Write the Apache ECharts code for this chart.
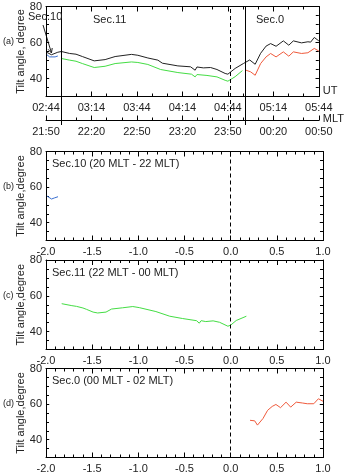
<!DOCTYPE html>
<html>
<head>
<meta charset="utf-8">
<script src="https://cdn.jsdelivr.net/npm/echarts@6/dist/echarts.min.js"></script>
<style>
  html, body { margin: 0; padding: 0; background: #fff; }
  #main { width: 345px; height: 476px; }
</style>
</head>
<body>
<div id="main"></div>
<script>
// x values are hours relative to the dashed line (04:44 UT / 23:50 MLT)
var utLabels = ['02:44', '03:14', '03:44', '04:14', '04:44', '05:14', '05:44'];
var mltLabels = ['21:50', '22:20', '22:50', '23:20', '23:50', '00:20', '00:50'];
var secBounds = [-1.83, 0.16];

// panel (a)
var aBlackX = [-1.99, -1.94, -1.87, -1.83, -1.74, -1.67, -1.60, -1.47, -1.35, -1.24, -1.06, -0.99, -0.88, -0.77, -0.72, -0.55, -0.41, -0.36, -0.34, -0.27, -0.19, -0.12, -0.03, 0.0, 0.08, 0.17, 0.24, 0.30, 0.36, 0.42, 0.47, 0.53, 0.61, 0.67, 0.72, 0.81, 0.88, 0.91, 0.95, 1.0];
var aBlackY = [54.5, 53.2, 54.6, 55.0, 53.9, 53.5, 52.2, 49.8, 50.5, 52.2, 53.4, 52.9, 51.4, 50.2, 48.5, 47.0, 46.5, 44.6, 46.4, 45.9, 46.1, 45.0, 42.8, 42.4, 45.6, 48.3, 50.3, 47.9, 54.0, 58.0, 59.4, 57.9, 60.9, 58.5, 60.9, 59.8, 60.4, 60.2, 62.8, 60.9];
var aGreenX = [-1.83, -1.74, -1.67, -1.60, -1.47, -1.35, -1.24, -1.06, -0.99, -0.88, -0.74, -0.55, -0.40, -0.36, -0.34, -0.23, -0.12, -0.03, 0.0, 0.08, 0.16];
var aGreenY = [51.1, 50.2, 49.6, 48.3, 46.1, 46.8, 48.3, 49.2, 48.9, 47.8, 45.0, 43.3, 42.4, 40.9, 42.2, 41.7, 40.9, 39.0, 38.5, 41.0, 44.4];
var aBlueX = [-1.99, -1.96, -1.94, -1.90, -1.87];
var aBlueY = [53.2, 52.0, 51.3, 52.0, 52.5];
var aRedX = [0.20, 0.25, 0.30, 0.36, 0.42, 0.47, 0.53, 0.61, 0.67, 0.72, 0.81, 0.88, 0.95, 1.0];
var aRedY = [44.6, 43.7, 41.8, 48.3, 52.0, 53.9, 52.0, 54.8, 52.4, 54.8, 53.9, 54.3, 56.7, 55.3];

// panel (b) Sec.10
var bBlueX = [-1.99, -1.97, -1.94, -1.91, -1.87];
var bBlueY = [55.0, 54.0, 53.3, 53.9, 54.6];

// panel (c) Sec.11
var cGreenX = [-1.83, -1.72, -1.67, -1.65, -1.60, -1.56, -1.49, -1.44, -1.35, -1.29, -1.17, -1.06, -0.99, -0.81, -0.66, -0.52, -0.37, -0.34, -0.32, -0.27, -0.19, -0.12, -0.03, 0.0, 0.06, 0.17];
var cGreenY = [55.6, 54.5, 54.1, 54.3, 53.2, 52.4, 50.9, 50.4, 50.9, 52.6, 53.3, 54.0, 53.4, 51.2, 48.6, 47.3, 46.1, 44.7, 46.1, 45.6, 46.0, 45.2, 43.0, 43.6, 46.2, 48.6];

// panel (d) Sec.0
var dRedX = [0.21, 0.26, 0.29, 0.35, 0.40, 0.45, 0.49, 0.54, 0.60, 0.65, 0.71, 0.78, 0.83, 0.90, 0.95, 1.0];
var dRedY = [50.9, 50.6, 48.2, 51.9, 56.5, 58.7, 59.8, 58.0, 61.1, 58.3, 61.1, 60.6, 60.2, 60.2, 63.0, 61.6];

var yMajor = [40, 60, 80];
var panelTitles = ['Sec.10 (20 MLT - 22 MLT)', 'Sec.11 (22 MLT - 00 MLT)', 'Sec.0 (00 MLT - 02 MLT)'];

var BLACK = '#222';
var GREEN = '#44dd44';
var BLUE = '#3a6fd0';
var RED = '#f05a3c';
var FONT = 'Liberation Sans';

function pairs(xs, ys) {
  return xs.map(function (x, i) { return [x, ys[i]]; });
}

var grids = [
  { left: 46, width: 277, top: 6.5, height: 90 },
  { left: 46, width: 277, top: 151.5, height: 89 },
  { left: 46, width: 277, top: 260, height: 89.5 },
  { left: 46, width: 277, top: 368.5, height: 89 },
  { left: 46, width: 277, top: 6.5, height: 118.5 } // overlay for the long vertical lines of (a)
];

var xAxes = [];
var yAxes = [];

function bottomX(g, labelFn, minorSplit) {
  return {
    type: 'value', gridIndex: g, position: 'bottom', min: -2, max: 1, interval: 0.5,
    axisLine: { onZero: false, lineStyle: { color: '#000', width: 1 } },
    axisTick: { inside: true, length: 5, lineStyle: { color: '#000' } },
    minorTick: { show: true, splitNumber: minorSplit, length: 3, lineStyle: { color: '#000' } },
    splitLine: { show: false },
    axisLabel: { color: '#222', fontFamily: FONT, fontSize: 11, margin: 6, formatter: labelFn }
  };
}
function topX(g, minorSplit) {
  return {
    type: 'value', gridIndex: g, position: 'top', min: -2, max: 1, interval: 0.5,
    axisLine: { onZero: false, lineStyle: { color: '#000', width: 1 } },
    axisTick: { inside: true, length: 5, lineStyle: { color: '#000' } },
    minorTick: { show: true, splitNumber: minorSplit, length: 3, lineStyle: { color: '#000' } },
    splitLine: { show: false }, axisLabel: { show: false }
  };
}
// left axis: short ticks every 5, labels at 40/60/80
function leftY(g, name) {
  return {
    type: 'value', gridIndex: g, position: 'left', min: 30, max: 80, interval: 5,
    name: name, nameLocation: 'middle', nameGap: 20, nameMoveOverlap: false,
    nameTextStyle: { color: '#222', fontFamily: FONT, fontSize: 11 },
    axisLine: { onZero: false, lineStyle: { color: '#000', width: 1 } },
    axisTick: { inside: true, length: 3, lineStyle: { color: '#000' } },
    splitLine: { show: false },
    axisLabel: {
      color: '#222', fontFamily: FONT, fontSize: 11, margin: 4,
      formatter: function (v) { return yMajor.indexOf(v) >= 0 ? String(v) : ''; }
    }
  };
}
function rightY(g) {
  return {
    type: 'value', gridIndex: g, position: 'right', min: 30, max: 80, interval: 5,
    axisLine: { onZero: false, lineStyle: { color: '#000', width: 1 } },
    axisTick: { inside: true, length: 3, lineStyle: { color: '#000' } },
    splitLine: { show: false }, axisLabel: { show: false }
  };
}

var utFmt = function (v) { return utLabels[Math.round((v + 2) * 2)]; };
var mltFmt = function (v) { return mltLabels[Math.round((v + 2) * 2)]; };
var numFmt = function (v) { return v.toFixed(1); };

// panel (a) axes
var utAxis = bottomX(0, utFmt, 3);
utAxis.name = 'UT';
utAxis.nameLocation = 'end';
utAxis.nameGap = 4;
utAxis.nameTextStyle = { color: '#222', fontFamily: FONT, fontSize: 11, verticalAlign: 'bottom' };
xAxes.push(utAxis);               // 0
xAxes.push(topX(0, 3));           // 1
var mltAxis = bottomX(0, mltFmt, 3);
mltAxis.offset = 24;
mltAxis.name = 'MLT';
mltAxis.nameLocation = 'end';
mltAxis.nameGap = 4;
mltAxis.nameTextStyle = { color: '#222', fontFamily: FONT, fontSize: 11, verticalAlign: 'bottom', padding: [0, 0, -4, 0] };
xAxes.push(mltAxis);              // 2
// panels (b)-(d)
for (var g = 1; g <= 3; g++) {
  xAxes.push(bottomX(g, numFmt, 5)); // 3,5,7
  xAxes.push(topX(g, 5));            // 4,6,8
}
xAxes.push({ type: 'value', gridIndex: 4, min: -2, max: 1, show: false }); // 9

for (var k = 0; k <= 3; k++) {
  yAxes.push(leftY(k, k === 0 ? 'Tilt angle, degree' : 'Tilt angle,degree')); // 2k
  yAxes.push(rightY(k));  // 2k+1
}
yAxes.push({ type: 'value', gridIndex: 4, min: 0, max: 1, show: false }); // 8

function lineSeries(name, xi, yi, data, color) {
  return {
    name: name, type: 'line', xAxisIndex: xi, yAxisIndex: yi, data: data,
    showSymbol: false, symbol: 'none', animation: false, clip: true,
    lineStyle: { color: color, width: 1 }
  };
}
function zeroLine() {
  return {
    symbol: 'none', silent: true, animation: false, label: { show: false },
    lineStyle: { color: '#000', type: [4, 3], width: 1 },
    data: [{ xAxis: 0 }]
  };
}
// longer ticks at the labelled values on both sides
function majorTicks() {
  return {
    symbol: 'none', silent: true, animation: false, label: { show: false },
    lineStyle: { color: '#000', type: 'solid', width: 1 },
    data: yMajor.map(function (v) { return [{ coord: [-2, v] }, { coord: [-1.965, v] }]; })
      .concat(yMajor.map(function (v) { return [{ coord: [0.965, v] }, { coord: [1, v] }]; }))
  };
}

var series = [
  lineSeries('all', 0, 0, pairs(aBlackX, aBlackY), BLACK),
  lineSeries('sec11a', 0, 0, pairs(aGreenX, aGreenY), GREEN),
  lineSeries('sec10a', 0, 0, pairs(aBlueX, aBlueY), BLUE),
  lineSeries('sec0a', 0, 0, pairs(aRedX, aRedY), RED),
  lineSeries('sec10', 3, 2, pairs(bBlueX, bBlueY), BLUE),
  lineSeries('sec11', 5, 4, pairs(cGreenX, cGreenY), GREEN),
  lineSeries('sec0', 7, 6, pairs(dRedX, dRedY), RED),
  {
    type: 'line', xAxisIndex: 9, yAxisIndex: 8, data: [], silent: true, animation: false,
    markLine: {
      symbol: 'none', silent: true, animation: false, label: { show: false },
      data: [
        { xAxis: secBounds[0], lineStyle: { color: '#000', type: 'solid', width: 1 } },
        { xAxis: 0, lineStyle: { color: '#000', type: [4, 3], width: 1 } },
        { xAxis: secBounds[1], lineStyle: { color: '#000', type: 'solid', width: 1 } }
      ]
    }
  }
];
series[4].markLine = zeroLine();
series[5].markLine = zeroLine();
series[6].markLine = zeroLine();
series.push(Object.assign(lineSeries('tA', 0, 0, [], '#000'), { markLine: majorTicks() }));
series.push(Object.assign(lineSeries('tB', 3, 2, [], '#000'), { markLine: majorTicks() }));
series.push(Object.assign(lineSeries('tC', 5, 4, [], '#000'), { markLine: majorTicks() }));
series.push(Object.assign(lineSeries('tD', 7, 6, [], '#000'), { markLine: majorTicks() }));

var titles = [];
var panelLetters = ['(a)', '(b)', '(c)', '(d)'];
var letterY = [37, 182, 291, 399];
panelLetters.forEach(function (t, i) {
  titles.push({ text: t, left: 3, top: letterY[i], padding: 0, textStyle: { fontFamily: FONT, fontSize: 9, fontWeight: 'normal', color: '#222' } });
});
var titleY = [158, 267, 375];
panelTitles.forEach(function (t, i) {
  titles.push({ text: t, left: 52, top: titleY[i], padding: 0, textStyle: { fontFamily: FONT, fontSize: 11, fontWeight: 'normal', color: '#222' } });
});
titles.push({ text: 'Sec.10', left: 28, top: 11, padding: 0, textStyle: { fontFamily: FONT, fontSize: 11, fontWeight: 'normal', color: '#222' } });
titles.push({ text: 'Sec.11', left: 93, top: 14, padding: 0, textStyle: { fontFamily: FONT, fontSize: 11, fontWeight: 'normal', color: '#222' } });
titles.push({ text: 'Sec.0', left: 256, top: 14, padding: 0, textStyle: { fontFamily: FONT, fontSize: 11, fontWeight: 'normal', color: '#222' } });

var chart = echarts.init(document.getElementById('main'), null, { renderer: 'canvas' });
chart.setOption({
  backgroundColor: '#fff',
  animation: false,
  title: titles,
  grid: grids,
  xAxis: xAxes,
  yAxis: yAxes,
  series: series
});

// arrow from the "Sec.10" label to the start of the curves
var tip = chart.convertToPixel({ xAxisIndex: 0, yAxisIndex: 0 }, [-1.94, 54.2]);
var tail = [43, 25];
var ang = Math.atan2(tip[1] - tail[1], tip[0] - tail[0]);
var hl = 5;
chart.setOption({
  graphic: [
    { type: 'line', shape: { x1: tail[0], y1: tail[1], x2: tip[0], y2: tip[1] }, style: { stroke: '#222', lineWidth: 1 } },
    { type: 'polyline', shape: { points: [
        [tip[0] - hl * Math.cos(ang - 0.45), tip[1] - hl * Math.sin(ang - 0.45)],
        [tip[0], tip[1]],
        [tip[0] - hl * Math.cos(ang + 0.45), tip[1] - hl * Math.sin(ang + 0.45)]
      ] }, style: { stroke: '#222', lineWidth: 1, fill: null } }
  ]
});
</script>
</body>
</html>
